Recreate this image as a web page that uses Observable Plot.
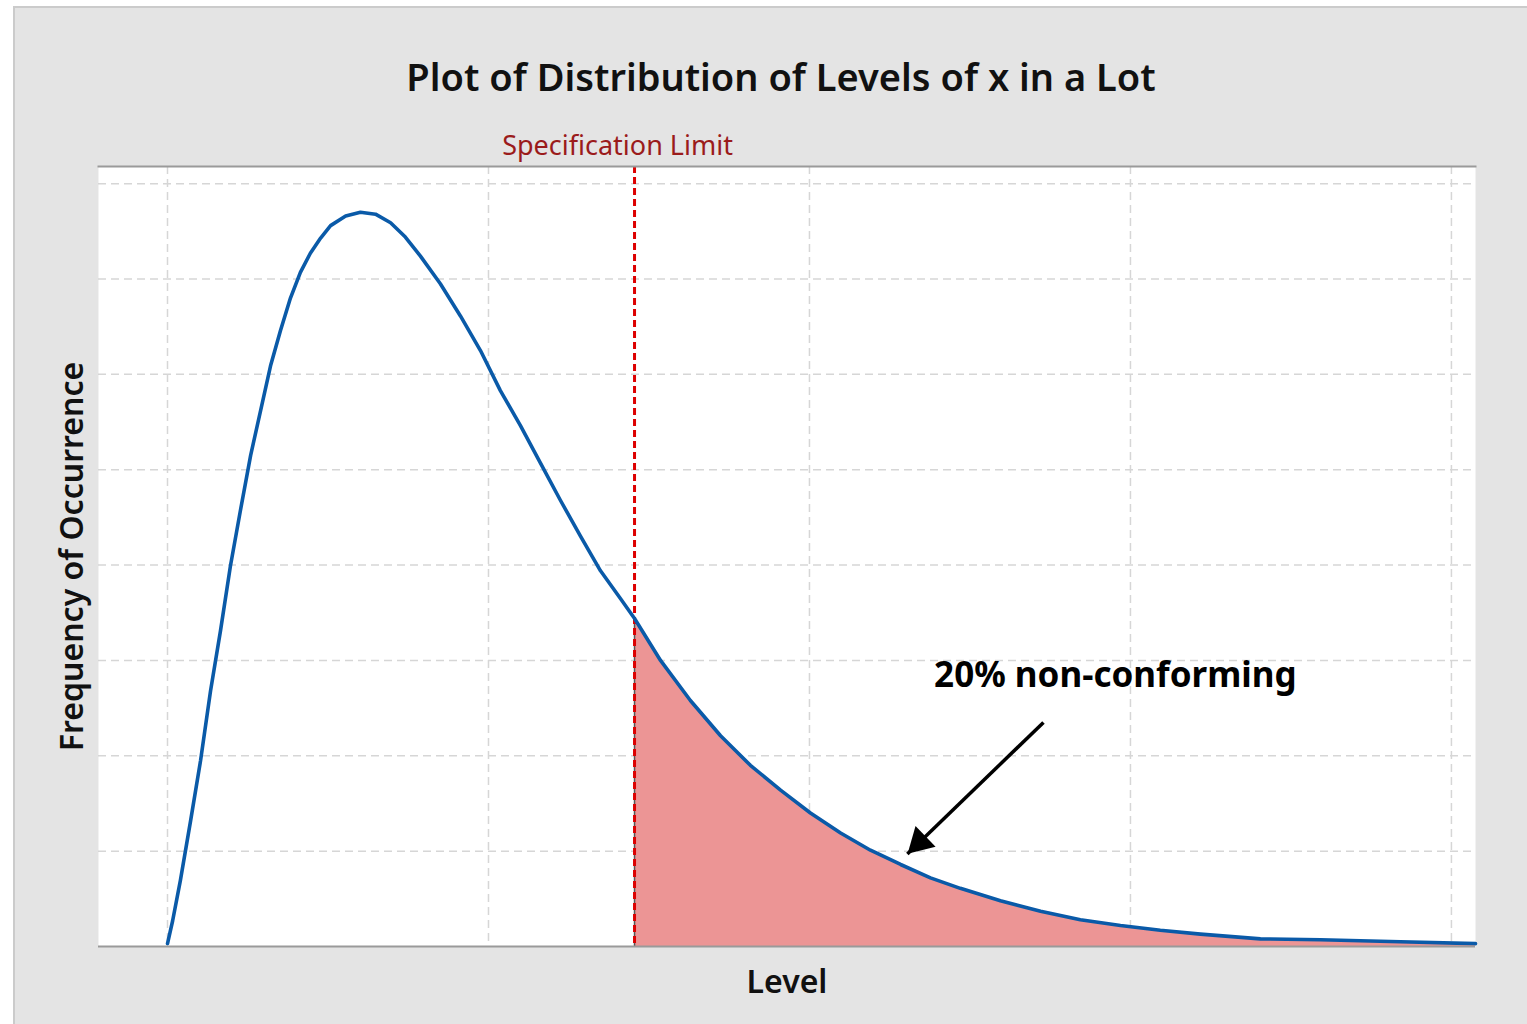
<!DOCTYPE html>
<html>
<head>
<meta charset="utf-8">
<script src="https://cdn.jsdelivr.net/npm/d3@7"></script>
<script src="https://cdn.jsdelivr.net/npm/@observablehq/plot@0.6"></script>
<style>
  html, body { margin: 0; padding: 0; background: #ffffff; }
  #wrap { position: relative; width: 1527px; height: 1024px; overflow: hidden; background: #ffffff; }
  #panel { position: absolute; left: 13px; top: 6px; width: 1530px; height: 1030px; background: #e4e4e4; border: 2px solid #cbcbcb; box-sizing: border-box; }
  #chart { position: absolute; left: 0; top: 0; }
  #chart svg { background: transparent; overflow: visible; }
</style>
</head>
<body>
<div id="wrap"><div id="panel"></div><div id="chart"></div></div>
<script>
// Distribution curve (level, frequency)
const levels = [0, 0.16, 0.40, 0.72, 1.03, 1.34, 1.65, 1.96, 2.27, 2.59, 2.90, 3.21, 3.52, 3.83, 4.14, 4.45, 4.77, 5.08, 5.55, 6.01, 6.48, 6.95, 7.41, 7.88, 8.50, 9.13, 9.75, 10.37, 11.00, 11.62, 12.24, 12.87, 13.49, 14.11, 14.55, 15.36, 16.29, 17.23, 18.16, 19.10, 20.03, 20.97, 21.90, 22.84, 23.77, 24.70, 25.95, 27.20, 28.44, 29.69, 30.93, 32.18, 34.05, 35.92, 38.41, 40.75];
const freq   = [0.03, 0.27, 0.69, 1.32, 1.95, 2.68, 3.31, 3.99, 4.57, 5.15, 5.62, 6.09, 6.46, 6.80, 7.07, 7.27, 7.43, 7.56, 7.66, 7.70, 7.68, 7.59, 7.44, 7.24, 6.95, 6.61, 6.25, 5.83, 5.46, 5.07, 4.68, 4.30, 3.94, 3.65, 3.44, 3.00, 2.58, 2.21, 1.90, 1.64, 1.40, 1.19, 1.01, 0.86, 0.72, 0.61, 0.48, 0.37, 0.28, 0.22, 0.17, 0.13, 0.08, 0.07, 0.05, 0.03];
const specLimit = 14.55;
const xGridValues = [0, 10, 20, 30, 40];
const yGridValues = [1, 2, 3, 4, 5, 6, 7, 8];
const titleText = "Plot of Distribution of Levels of x in a Lot";
const specLabel = "Specification Limit";
const xLabel = "Level";
const yLabel = "Frequency of Occurrence";
const noteText = "20% non-conforming";
const noteX = [29.53], noteY = [2.84];
const arrowFromX = [27.29], arrowFromY = [2.35];
const arrowToX = [23.05], arrowToY = [0.97];
const arrowHeadX = [23.43], arrowHeadY = [1.095];

const curve = levels.map((x, i) => ({x, y: freq[i]}));
const tail = curve.filter(d => d.x >= specLimit);
const specY = tail[0].y;
const font = "'Segoe UI', 'Noto Sans', 'Open Sans', sans-serif";

const chart = Plot.plot({
  width: 1527,
  height: 1024,
  marginLeft: 98,
  marginRight: 52,
  marginTop: 166,
  marginBottom: 78,
  style: {fontFamily: font, background: "transparent"},
  x: {domain: [-2.15, 40.75], axis: null},
  y: {domain: [0, 8.18], axis: null},
  marks: [
    Plot.frame({fill: "white", stroke: null}),
    Plot.gridX(xGridValues, {stroke: "#d6d6d6", strokeOpacity: 1, strokeWidth: 1.5, strokeDasharray: "8,5"}),
    Plot.gridY(yGridValues, {stroke: "#d6d6d6", strokeOpacity: 1, strokeWidth: 1.5, strokeDasharray: "8,5"}),
    Plot.areaY(tail, {x: "x", y: "y", fill: "#ec9595", fillOpacity: 1}),
    Plot.ruleX([specLimit], {y1: 0, y2: specY, stroke: "#555555", strokeWidth: 1.5}),
    Plot.ruleX([specLimit], {stroke: "#dd0000", strokeWidth: 3, strokeDasharray: "7,4"}),
    Plot.line(curve, {x: "x", y: "y", stroke: "#0a5aa8", strokeWidth: 3.6}),
    Plot.ruleY([0], {stroke: "#9a9a9a", strokeWidth: 2}),
    Plot.frame({anchor: "top", stroke: "#9a9a9a", strokeWidth: 2}),
    Plot.link([0], {x1: () => arrowFromX[0], y1: () => arrowFromY[0], x2: () => arrowToX[0], y2: () => arrowToY[0], stroke: "black", strokeWidth: 3.5}),
    Plot.dot([0], {x: () => arrowHeadX[0], y: () => arrowHeadY[0], symbol: "triangle", r: 10.7, fill: "black", stroke: null, rotate: 226}),
    Plot.text([noteText], {x: () => noteX[0], y: () => noteY[0], text: d => d, fontSize: 35, fontWeight: 700, fill: "#000"}),
    Plot.text([specLabel], {x: () => specLimit, frameAnchor: "top", lineAnchor: "middle", text: d => d, dy: -20, dx: -17, fontSize: 27, fill: "#9b1b1b"}),
    Plot.text([titleText], {frameAnchor: "top", lineAnchor: "middle", textAnchor: "middle", text: d => d, dy: -88, dx: -6, fontSize: 38, fontWeight: 600, fill: "#111"}),
    Plot.text([xLabel], {frameAnchor: "bottom", lineAnchor: "middle", textAnchor: "middle", text: d => d, dy: 36, fontSize: 32, fontWeight: 600, fill: "#111"}),
    Plot.text([yLabel], {frameAnchor: "left", lineAnchor: "middle", textAnchor: "middle", text: d => d, dx: -26, rotate: -90, fontSize: 32, fontWeight: 600, fill: "#111"})
  ]
});
document.getElementById("chart").appendChild(chart);
</script>
</body>
</html>
